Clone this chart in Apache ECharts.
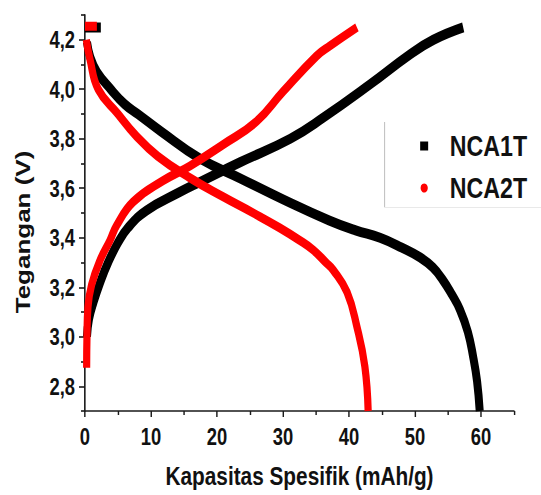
<!DOCTYPE html>
<html>
<head>
<meta charset="utf-8">
<script src="https://cdn.jsdelivr.net/npm/echarts@6/dist/echarts.min.js"></script>
<style>
html,body{margin:0;padding:0;background:#fff;overflow:hidden;width:541px;height:495px;}
#c{width:676px;height:495px;transform:scaleX(0.8003);transform-origin:0 0;}
</style>
</head>
<body>
<div id="c"></div>
<script>
// ---- data (x: mAh/g, y: V) ----
const nca1tCharge = [[0.3,3.00],[0.6,3.07],[1.3,3.14],[2.3,3.22],[3.5,3.30],[5.0,3.38],[6.5,3.44],[9.3,3.51],[14.4,3.585],[17.4,3.625],[23.5,3.705],[31.1,3.80],[36.1,3.885],[43.2,4.02],[49.2,4.14],[52.8,4.20],[57.3,4.25]];
const nca1tDischarge = [[0.3,4.19],[0.8,4.13],[1.8,4.07],[3.9,4.00],[6.0,3.94],[8.0,3.90],[11.5,3.83],[17.4,3.72],[23.5,3.64],[30.0,3.555],[37.0,3.47],[41.0,3.43],[44.7,3.40],[48.0,3.36],[50.8,3.32],[52.7,3.28],[54.2,3.23],[55.6,3.17],[56.8,3.11],[58.0,3.02],[58.8,2.92],[59.4,2.82],[59.8,2.70]];
const nca1tCv = [[0,4.25],[2.4,4.25]];
const nca2tCharge = [[0.25,2.875],[0.3,3.00],[0.45,3.12],[1.0,3.21],[2.3,3.31],[3.8,3.39],[4.8,3.45],[7.3,3.545],[11.8,3.63],[15.9,3.69],[20.9,3.776],[26.0,3.87],[30.0,3.99],[35.1,4.135],[37.1,4.175],[41.2,4.25]];
const nca2tDischarge = [[0.2,4.20],[0.76,4.12],[2.0,4.00],[5.0,3.90],[7.6,3.816],[11.0,3.73],[15.9,3.642],[20.9,3.566],[25.5,3.50],[29.5,3.44],[32.5,3.39],[34.6,3.35],[36.5,3.30],[37.6,3.27],[39.7,3.18],[41.2,3.04],[42.4,2.88],[42.9,2.70]];
const nca2tCv = [[0,4.255],[1.8,4.255]];

const seriesNames = ['NCA1T','NCA2T'];
const xMajorTicks = [0,10,20,30,40,50,60];
const xMinorTicks = [5,15,25,35,45,55,65];
const yMajorTicks = [2.8,3.0,3.2,3.4,3.6,3.8,4.0,4.2];
const yMinorTicks = [2.7,2.9,3.1,3.3,3.5,3.7,3.9,4.1,4.3];
const xTitle = 'Kapasitas Spesifik (mAh/g)';
const yTitle = 'Tegangan (V)';

const FONT = '"Liberation Sans", Arial, sans-serif';
const AX = '#1a1a1a';
const X_MIN = 0, X_MAX = 65, Y_MIN = 2.7, Y_MAX = 4.3;

const chart = echarts.init(document.getElementById('c'), null, {renderer:'svg', width:676, height:495});

function lineSeries(name, data, color, width, z){
  return {name, type:'line', data, xAxisIndex:0, yAxisIndex:0, showSymbol:false, symbol:'none',
    smooth:0.45, z, lineStyle:{color, width, cap:'butt', join:'round'}, itemStyle:{color}, silent:true, animation:false};
}

chart.setOption({
  animation:false,
  backgroundColor:'#ffffff',
  grid:{left:106.2, right:33.7, top:15, bottom:84, containLabel:false},
  xAxis:[{
    type:'value', min:X_MIN, max:X_MAX,
    name:xTitle, nameLocation:'middle', nameGap:52,
    nameTextStyle:{fontFamily:FONT, fontWeight:'bold', fontSize:26, color:'#111'},
    axisLine:{show:true, onZero:false, lineStyle:{color:AX, width:1.6}},
    axisTick:{show:true, customValues:xMajorTicks, length:6, inside:false, lineStyle:{color:AX, width:1.8}},
    axisLabel:{show:true, customValues:xMajorTicks, margin:14, fontFamily:FONT, fontWeight:'bold', fontSize:23, color:'#111', formatter:v=>String(v)},
    splitLine:{show:false}
  },{
    type:'value', min:X_MIN, max:X_MAX, position:'bottom',
    axisLine:{show:false},
    axisTick:{show:true, customValues:xMinorTicks, length:4, lineStyle:{color:AX, width:1.8}},
    axisLabel:{show:false}, splitLine:{show:false}
  }],
  yAxis:[{
    type:'value', min:Y_MIN, max:Y_MAX,
    name:yTitle, nameLocation:'middle', nameGap:64,
    nameTextStyle:{fontFamily:FONT, fontWeight:'bold', fontSize:26, color:'#111', padding:[0,38,0,0]},
    axisLine:{show:true, onZero:false, lineStyle:{color:AX, width:2}},
    axisTick:{show:true, customValues:yMajorTicks, length:7.5, lineStyle:{color:AX, width:1.6}},
    axisLabel:{show:true, customValues:yMajorTicks, margin:12.5, fontFamily:FONT, fontWeight:'bold', fontSize:23, color:'#111',
      formatter:v=>v.toFixed(1).replace('.',',')},
    splitLine:{show:false}
  },{
    type:'value', min:Y_MIN, max:Y_MAX, position:'left',
    axisLine:{show:false},
    axisTick:{show:true, customValues:yMinorTicks, length:5, lineStyle:{color:AX, width:1.6}},
    axisLabel:{show:false}, splitLine:{show:false}
  }],
  legend:{
    orient:'vertical', left:520, top:126.5, itemWidth:10, itemHeight:9, itemGap:13,
    data:[{name:seriesNames[0], icon:'rect'},{name:seriesNames[1], icon:'circle'}],
    textStyle:{fontFamily:FONT, fontWeight:'bold', fontSize:29, color:'#111', padding:[0,0,0,22]},
    selectedMode:false
  },
  graphic:[
    {type:'line', silent:true, shape:{x1:480.6, y1:122, x2:480.6, y2:207}, style:{stroke:'#bbbbbb', lineWidth:1.2}},
    {type:'line', silent:true, shape:{x1:480, y1:207.5, x2:676, y2:207.5}, style:{stroke:'#e6e6e6', lineWidth:1}}
  ],
  series:[
    lineSeries(seriesNames[0], nca1tCharge, '#000000', 10, 2),
    lineSeries(seriesNames[0], nca1tDischarge, '#000000', 10, 2),
    lineSeries(seriesNames[0], nca1tCv, '#000000', 10, 2),
    lineSeries(seriesNames[1], nca2tCharge, '#ff0000', 9, 3),
    lineSeries(seriesNames[1], nca2tDischarge, '#ff0000', 9, 3),
    lineSeries(seriesNames[1], nca2tCv, '#ff0000', 9, 3)
  ]
});
</script>
</body>
</html>
